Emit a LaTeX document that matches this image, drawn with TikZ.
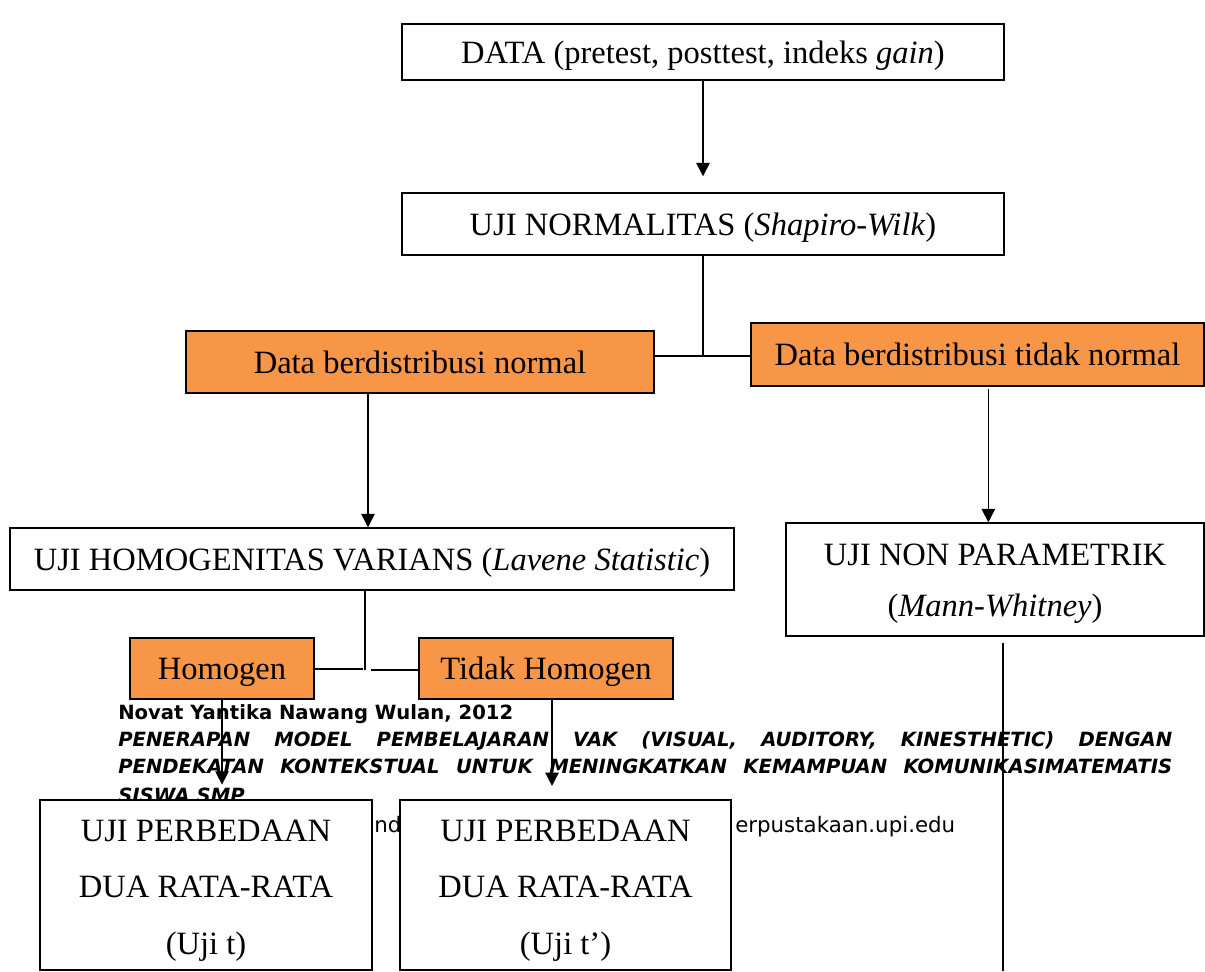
\documentclass[tikz,border=0pt]{standalone}
\usepackage{fontspec}
\setmainfont{Liberation Serif}
\newfontfamily\footfont{DejaVu Sans}
\usetikzlibrary{arrows.meta}
\definecolor{orangefill}{HTML}{F79646}
\begin{document}
\begin{tikzpicture}[x=0.75pt,y=-0.75pt,
  box/.style={draw=black, line width=1.1pt, fill=white, inner sep=0pt,
              font=\fontsize{24.4}{29}\selectfont, align=center},
  one/.style={text height=21pt, text depth=4.3pt},
  obox/.style={box, one, fill=orangefill},
  conn/.style={line width=1.1pt},
  arr/.style={conn, -{Triangle[width=10pt,length=10pt]}},
  footb/.style={inner sep=0pt, anchor=base west, font=\footfont\bfseries\fontsize{14.7}{17}\selectfont},
  footi/.style={inner sep=0pt, anchor=base west, font=\footfont\bfseries\itshape\fontsize{14.7}{17}\selectfont},
  footr/.style={inner sep=0pt, anchor=base west, font=\footfont\fontsize{16}{19}\selectfont}
]
\useasboundingbox (0,0) rectangle (1205,971);
\fill[white] (0,0) rectangle (1205,971);

% page footer text (behind the boxes)
\node[footb] (f1) at (118,719) {Novat Yantika Nawang Wulan, 2012};
\node[footi] (f2) at (118,746) {\makebox[790.5pt][s]{PENERAPAN MODEL PEMBELAJARAN VAK (VISUAL, AUDITORY, KINESTHETIC) DENGAN}};
\node[footi] (f3) at (118,773) {\makebox[790.5pt][s]{PENDEKATAN KONTEKSTUAL UNTUK MENINGKATKAN KEMAMPUAN KOMUNIKASIMATEMATIS}};
\node[footi] (f4) at (118,802) {SISWA SMP};
\node[footr] (f5) at (374,832) {nd};
\node[footr] (f6) at (735,832) {erpustakaan.upi.edu};

% boxes
\node[box, one, minimum width=451.5pt, minimum height=42pt] (data) at (703,52)
  {DATA (pretest, posttest, indeks \textit{gain})};
\node[box, one, minimum width=451.5pt, minimum height=46.5pt] (norm) at (703,224)
  {UJI NORMALITAS (\textit{Shapiro-Wilk})};
\node[obox, minimum width=351pt, minimum height=46.5pt] (dn) at (420,362)
  {Data berdistribusi normal};
\node[obox, minimum width=339.75pt, minimum height=47.25pt] (dtn) at (977.5,354.5)
  {Data berdistribusi tidak normal};
\node[box, one, minimum width=543pt, minimum height=46.5pt] (homv) at (372,559)
  {UJI HOMOGENITAS VARIANS (\textit{Lavene Statistic})};
\node[box, minimum width=313.5pt, minimum height=84.75pt, font=\fontsize{24.4}{38.25}\selectfont] (nonp) at (995,579.5)
  {\rule{0pt}{22pt}UJI NON PARAMETRIK\\(\textit{Mann-Whitney})};
\node[obox, minimum width=138pt, minimum height=45.75pt] (hom) at (222,668.5) {Homogen};
\node[obox, minimum width=190.5pt, minimum height=45.75pt] (thom) at (546,668.5) {Tidak Homogen};
\node[box, minimum width=249pt, minimum height=127.5pt, font=\fontsize{24.4}{42.4}\selectfont] (ut) at (206,885)
  {\rule{0pt}{24.5pt}UJI PERBEDAAN\\DUA RATA-RATA\\(Uji t)};
\node[box, minimum width=248.25pt, minimum height=127.5pt, font=\fontsize{24.4}{42.4}\selectfont] (ut2) at (565.5,885)
  {\rule{0pt}{24.5pt}UJI PERBEDAAN\\DUA RATA-RATA\\(Uji t’)};

% connectors
\coordinate (j1) at (703,356);
\coordinate (j2) at (365,670);
\coordinate (j2a) at (363,669);
\coordinate (j2b) at (371,670);
\coordinate (b1) at (1003,971);

\draw[arr, shorten >=12pt] (data.south) -- (norm.north);
\draw[conn] (norm.south) -- (j1);
\draw[conn] (dn.east |- j1) -- (dtn.west |- j1);
\draw[arr] ([xshift=-3pt]dn.south -| homv.north) -- ([xshift=-3pt]homv.north);
\draw[arr] ([xshift=-5pt,yshift=-2pt]dtn.south -| nonp.north) -- ([xshift=-5pt]nonp.north);
\draw[conn] ([yshift=-4.5pt]nonp.south -| b1) -- (b1);
\draw[conn] (homv.south -| j2) -- (j2);
\draw[conn] (hom.east |- j2a) -- (j2a);
\draw[conn] (j2b) -- (thom.west |- j2b);
\draw[arr, shorten >=11pt] (hom.south) -- (hom.south |- ut.north);
\draw[arr, shorten >=10pt] ([xshift=4.5pt]thom.south) -- ([xshift=4.5pt]thom.south |- ut2.north);
\end{tikzpicture}
\end{document}
